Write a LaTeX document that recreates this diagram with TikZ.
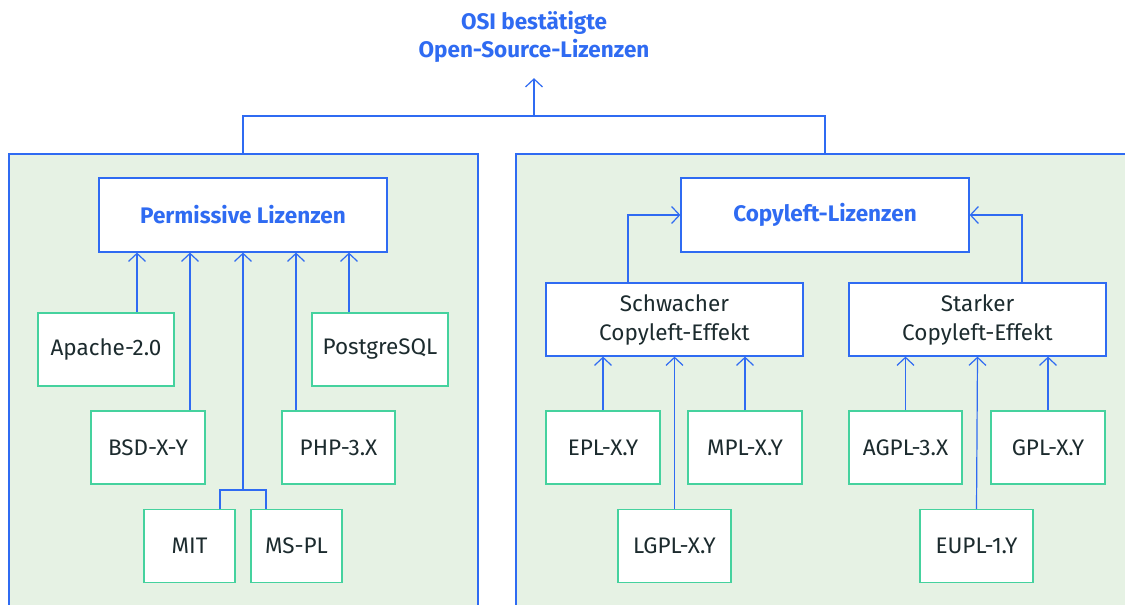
\documentclass[tikz,border=0pt]{standalone}
\usepackage{fontspec}
\setmainfont{Fira Sans}
\usepackage{xcolor}
\definecolor{osiblue}{HTML}{2F6BF2}
\definecolor{licgreen}{HTML}{45D29E}
\definecolor{panelgreen}{HTML}{E6F2E4}
\definecolor{textdark}{HTML}{1C2B2E}
\usetikzlibrary{arrows.meta}

\tikzset{
  panel/.style={draw=osiblue, fill=panelgreen, line width=1.2pt},
  catbox/.style={draw=osiblue, fill=white, line width=1.2pt, minimum height=74pt,
    align=center, text=textdark, inner sep=0pt},
  licbox/.style={draw=licgreen, fill=white, line width=1.2pt, minimum height=73pt,
    text=textdark, inner sep=0pt},
  headtext/.style={text=osiblue, font=\fontsize{22.5}{28}\selectfont\bfseries},
  link/.style={draw=osiblue, line width=1.2pt},
  arr/.style={link, -{Straight Barb[length=8pt,width=17pt]}},
}

\begin{document}
\begin{tikzpicture}[x=1pt, y=-1pt, every node/.style={font=\fontsize{22.5}{29}\selectfont}]
            \clip (0,0) rectangle (1125,605);
            \fill[white] (0,0) rectangle (1125,605);

            % the two areas
            \draw[panel] (9,154) rectangle (478,620);
            \draw[panel] (516,154) rectangle (1140,620);

            \node[headtext, align=center] (osi) at (534,37) {OSI bestätigte\\Open-Source-Lizenzen};

            \node[catbox, minimum width=288pt] (perm) at (243,215) {};
            \node[headtext] at (perm) {Permissive Lizenzen};
            \node[catbox, minimum width=288pt] (copy) at (825,215) {};
            \node[headtext] at (copy) {Copyleft-Lizenzen};

            \node[catbox, minimum width=257pt, minimum height=73pt] (schwach) at (674.5,319.5) {Schwacher\\Copyleft-Effekt};
            \node[catbox, minimum width=257pt, minimum height=73pt] (stark) at (977.5,319.5) {Starker\\Copyleft-Effekt};

            % permissive
            \node[licbox, minimum width=136pt] (apache) at (106,349.5) {Apache-2.0};
            \node[licbox, minimum width=136pt] (postgres) at (380,349.5) {PostgreSQL};
            \node[licbox, minimum width=114pt] (bsd) at (148,447.5) {BSD-X-Y};
            \node[licbox, minimum width=113pt] (php) at (338.5,447.5) {PHP-3.X};
            \node[licbox, minimum width=91pt] (mit) at (189.5,546) {MIT};
            \node[licbox, minimum width=91pt] (mspl) at (296.5,546) {MS-PL};

            % copyleft
            \node[licbox, minimum width=114pt] (epl) at (603,447.5) {EPL-X.Y};
            \node[licbox, minimum width=114pt] (mpl) at (745,447.5) {MPL-X.Y};
            \node[licbox, minimum width=113pt] (lgpl) at (674.5,546) {LGPL-X.Y};
            \node[licbox, minimum width=113pt] (agpl) at (905.5,447.5) {AGPL-3.X};
            \node[licbox, minimum width=114pt] (gpl) at (1048,447.5) {GPL-X.Y};
            \node[licbox, minimum width=113pt] (eupl) at (976.5,546) {EUPL-1.Y};

            \coordinate (ltop) at (243,154);
            \coordinate (rtop) at (825,154);
            \coordinate (hub) at (534,116);
            \coordinate (mjoin) at (243,490);

            \draw[link] (ltop) |- (hub) -| (rtop);
            \draw[arr, shorten >=12pt] (hub) -- (osi.south);

            \draw[arr] ([xshift=31pt]apache.north) -- ([xshift=31pt]apache.north |- perm.south);
            \draw[arr] ([xshift=-31pt]postgres.north) -- ([xshift=-31pt]postgres.north |- perm.south);
            \draw[arr] ([xshift=42pt]bsd.north) -- ([xshift=42pt]bsd.north |- perm.south);
            \draw[arr] ([xshift=-42.5pt]php.north) -- ([xshift=-42.5pt]php.north |- perm.south);
            \draw[link] ([xshift=30.5pt]mit.north) |- (mjoin) -| ([xshift=-30.5pt]mspl.north);
            \draw[arr] (mjoin) -- (perm.south);

            \draw[arr] ([xshift=-46.5pt]schwach.north) |- (copy.west);
            \draw[arr] ([xshift=44.5pt]stark.north) |- (copy.east);
            \draw[arr] (epl) -- (epl |- schwach.south);
            \draw[arr] (mpl) -- (mpl |- schwach.south);
            \draw[arr] (lgpl.north) -- (schwach.south);
            \draw[arr] (agpl) -- (agpl |- stark.south);
            \draw[arr] (gpl) -- (gpl |- stark.south);
            \draw[arr] (eupl.north) -- (stark.south);
        \end{tikzpicture}
\end{document}
